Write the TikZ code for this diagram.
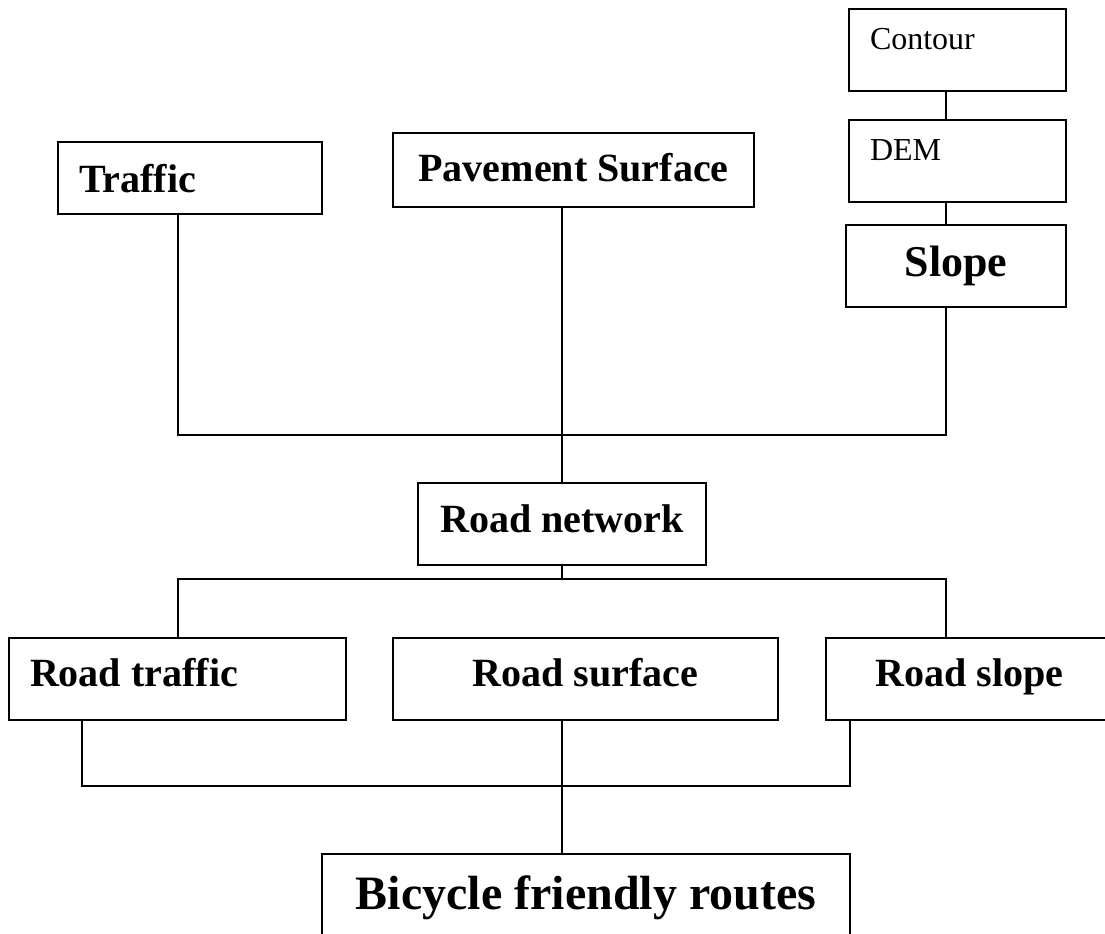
\documentclass[tikz,border=0pt]{standalone}
\usepackage{fontspec}
\setmainfont{Liberation Serif}
\tikzstyle{smallbox} = [rectangle, draw=black, line width=0.8pt, minimum height=1.64cm, text width=3.5cm, inner xsep=0.42cm, align=flush left, text height=0.45cm, text depth=0.45cm, font=\fontsize{18.2}{20}\selectfont]
\tikzstyle{leftbox} = [rectangle, draw=black, line width=0.8pt, inner xsep=0.42cm, align=flush left, text depth=0pt, font=\fontsize{22.8}{26}\selectfont\bfseries]
\tikzstyle{midbox} = [rectangle, draw=black, line width=0.8pt, align=center, text depth=0pt, font=\fontsize{22.8}{26}\selectfont\bfseries]
\tikzstyle{link} = [line width=0.8pt]

\begin{document}
\begin{tikzpicture}
    \useasboundingbox (0,0) rectangle (22.1,18.68);
    \clip (0,0) rectangle (22.1,18.68);
    %columns and joins of the lines
    \coordinate (colLL) at (1.64,0);
    \coordinate (colL) at (3.56,0);
    \coordinate (colM) at (11.24,0);
    \coordinate (colRR) at (17.00,0);
    \coordinate (colR) at (18.92,0);
    \coordinate (merge_top) at (11.24,9.98);
    \coordinate (split) at (11.24,7.10);
    \coordinate (merge_bot) at (11.24,2.96);

    %boxes
    \node (contour) [smallbox] at (19.15,17.68) {Contour};
    \node (dem) [smallbox] at (19.15,15.46) {DEM};
    \node (slope) [midbox, minimum width=4.40cm, minimum height=1.64cm, text height=0.44cm, font=\fontsize{25}{28}\selectfont\bfseries] at (19.12,13.36) {Slope};
    \node (traffic) [leftbox, text width=4.44cm, minimum height=1.44cm, text height=0.60cm] at (3.80,15.12) {Traffic};
    \node (pavement) [midbox, minimum width=7.22cm, minimum height=1.48cm, text height=0.48cm] at (11.47,15.28) {Pavement Surface};
    \node (roadnet) [midbox, minimum width=5.76cm, minimum height=1.64cm, text height=0.36cm] at (11.24,8.20) {Road network};
    \node (roadtraffic) [leftbox, text width=5.90cm, minimum height=1.64cm, text height=0.32cm] at (3.55,5.10) {Road traffic};
    \node (roadsurface) [midbox, minimum width=7.70cm, minimum height=1.64cm, text height=0.32cm] at (11.71,5.10) {Road surface};
    \node (roadslope) [midbox, minimum width=5.74cm, minimum height=1.64cm, text height=0.32cm] at (19.39,5.10) {Road slope};
    \node (bicycle) [midbox, minimum width=10.56cm, minimum height=1.64cm, text height=0.60cm, font=\fontsize{27.3}{30}\selectfont\bfseries] at (11.72,0.78) {Bicycle friendly routes};

    %lines
    \draw [link](colR |- contour.south) -- (colR |- dem.north);
    \draw [link](colR |- dem.south) -- (colR |- slope.north);
    \draw [link](colL |- traffic.south) |- (merge_top) -| (colR |- slope.south);
    \draw [link](colM |- pavement.south) -- (roadnet.north);
    \draw [link](roadnet.south) -- (split);
    \draw [link](colL |- roadtraffic.north) |- (split) -| (colR |- roadslope.north);
    \draw [link](colLL |- roadtraffic.south) |- (merge_bot) -| (colRR |- roadslope.south);
    \draw [link](colM |- roadsurface.south) -- (colM |- bicycle.north);
\end{tikzpicture}
\end{document}
